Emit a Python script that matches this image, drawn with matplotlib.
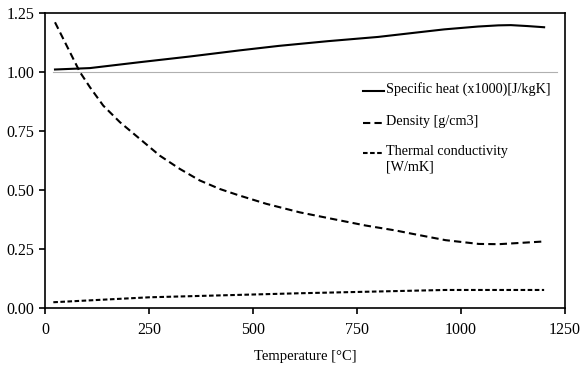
import matplotlib
matplotlib.use("Agg")
import matplotlib.pyplot as plt
from matplotlib.lines import Line2D

# values
temp_cp = [24, 108, 228, 348, 468, 562, 680, 801, 900, 960, 1041, 1090, 1120, 1160, 1200]
specific_heat = [1.010, 1.016, 1.041, 1.065, 1.091, 1.110, 1.130, 1.148, 1.168, 1.180,
                 1.192, 1.197, 1.198, 1.194, 1.189]

temp_rho = [24, 68, 84, 108, 140, 180, 228, 276, 324, 372, 420, 464, 532, 612, 691, 771,
            843, 883, 963, 1043, 1091, 1139, 1195]
density = [1.21, 1.055, 0.999, 0.935, 0.857, 0.787, 0.716, 0.645, 0.589, 0.540, 0.504,
           0.478, 0.441, 0.405, 0.377, 0.349, 0.328, 0.314, 0.287, 0.271, 0.270, 0.275, 0.281]

temp_k = [20, 251, 610, 962, 1200]
conductivity = [0.024, 0.045, 0.062, 0.076, 0.076]

ref_x = [20, 1230]
ref_y = [1.0, 1.0]

labels = ["Specific heat (x1000)[J/kgK]", "Density [g/cm3]", "Thermal conductivity\n[W/mK]"]
x_ticks = [0, 250, 500, 750, 1000, 1250]
y_ticks = [0.00, 0.25, 0.50, 0.75, 1.00, 1.25]

plt.rcParams['font.family'] = ['Liberation Serif', 'DejaVu Serif']
plt.rcParams['font.size'] = 10.5

fig = plt.figure(figsize=(5.8, 3.67), dpi=100)
ax = fig.add_axes([0.0776, 0.161, 0.8964, 0.804])

styles = ['-', (0, (3.5, 2)), (0, (2.2, 1.2))]

ax.plot(ref_x, ref_y, color='#b0b0b0', lw=0.8, zorder=1)
ax.plot(temp_cp, specific_heat, color='black', lw=1.5, ls=styles[0])
ax.plot(temp_rho, density, color='black', lw=1.5, ls=styles[1])
ax.plot(temp_k, conductivity, color='black', lw=1.5, ls=styles[2])

ax.set_xlim(0, 1250)
ax.set_ylim(0, 1.25)
ax.set_xticks(x_ticks)
ax.set_yticks(y_ticks)
ax.set_yticklabels([f"{v:.2f}" for v in y_ticks])
ax.tick_params(direction='out', length=4, width=1.2, labelsize=11.5)
ax.tick_params(axis='x', pad=6)
for s in ax.spines.values():
    s.set_linewidth(1.2)

ax.set_xlabel("Temperature [°C]", labelpad=9)

# legend drawn by hand so the handle sits on the first text line
leg_y = [0.736, 0.627, 0.524]
for y, ls, lab in zip(leg_y, styles, labels):
    ax.add_line(Line2D([0.612, 0.652], [y, y], transform=ax.transAxes,
                       color='black', lw=1.5, ls=ls))
    ax.text(0.655, y + 0.028, lab, transform=ax.transAxes, va='top', ha='left',
            fontsize=10.2, linespacing=1.2)

fig.savefig("out.png", dpi=100, facecolor='white')
